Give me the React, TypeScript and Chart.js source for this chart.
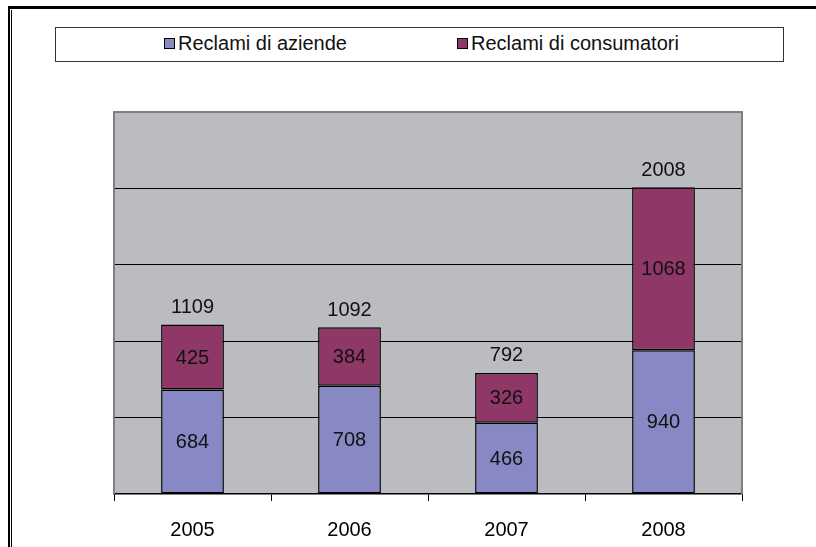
import React, { useEffect, useRef } from "react";
import { Chart, registerables } from "chart.js";

Chart.register(...registerables);

const categories = ["2005", "2006", "2007", "2008"];
const aziende = [684, 708, 466, 940];
const consumatori = [425, 384, 326, 1068];
const totals = [1109, 1092, 792, 2008];
const seriesNames = ["Reclami di aziende", "Reclami di consumatori"];
const seriesColors = ["#8888C4", "#8F3767"];
const yMax = 2500;
const yStep = 500;

const FONT = "Arial, 'Liberation Sans', sans-serif";

const plotBg = {
  id: "plotBg",
  beforeDraw(chart: any) {
    const { ctx, chartArea: a } = chart;
    ctx.save();
    ctx.fillStyle = "#BBBCC0";
    ctx.fillRect(a.left, a.top, a.right - a.left, a.bottom - a.top);
    ctx.restore();
  },
  afterDraw(chart: any) {
    const { ctx, chartArea: a } = chart;
    ctx.save();
    ctx.strokeStyle = "#7f7f7f";
    ctx.lineWidth = 2;
    ctx.beginPath();
    ctx.moveTo(a.left, a.bottom);
    ctx.lineTo(a.left, a.top);
    ctx.lineTo(a.right, a.top);
    ctx.lineTo(a.right, a.bottom);
    ctx.stroke();
    ctx.restore();
  },
};

const labelsPlugin = {
  id: "valueLabels",
  afterDatasetsDraw(chart: any) {
    const { ctx } = chart;
    ctx.save();
    ctx.font = `20px ${FONT}`;
    ctx.fillStyle = "#111";
    ctx.textAlign = "center";
    ctx.textBaseline = "middle";
    chart.data.datasets.forEach((ds: any, di: number) => {
      const meta = chart.getDatasetMeta(di);
      meta.data.forEach((bar: any, i: number) => {
        const y = (bar.y + bar.base) / 2;
        ctx.fillText(String(ds.data[i]), bar.x, y + 1);
      });
    });
    const top = chart.getDatasetMeta(chart.data.datasets.length - 1);
    top.data.forEach((bar: any, i: number) => {
      ctx.fillText(String(totals[i]), bar.x, bar.y - 17);
    });
    ctx.restore();
  },
};

export default function App() {
  const ref = useRef<HTMLCanvasElement>(null);
  useEffect(() => {
    if (!ref.current) return;
    const chart = new Chart(ref.current, {
      type: "bar",
      data: {
        labels: categories,
        datasets: [
          {
            label: seriesNames[0],
            data: aziende,
            backgroundColor: seriesColors[0],
            borderColor: "#000",
            borderWidth: 1.5,
            borderSkipped: false,
          },
          {
            label: seriesNames[1],
            data: consumatori,
            backgroundColor: seriesColors[1],
            borderColor: "#000",
            borderWidth: 1.5,
            borderSkipped: false,
          },
        ],
      },
      options: {
        animation: false,
        responsive: false,
        maintainAspectRatio: false,
        layout: { padding: { left: 114, right: 74, top: 112, bottom: 0 } },
        plugins: { legend: { display: false }, tooltip: { enabled: false } },
        datasets: { bar: { categoryPercentage: 1, barPercentage: 0.4 } },
        scales: {
          x: {
            stacked: true,
            afterFit: (s: any) => {
              s.height = 53;
            },
            grid: {
              offset: true,
              drawOnChartArea: false,
              drawTicks: true,
              tickLength: 7,
              color: "#000",
              lineWidth: 1,
            },
            border: { display: true, color: "#000", width: 1.5 },
            ticks: {
              color: "#000",
              font: { size: 20, family: FONT },
              padding: 17,
            },
          },
          y: {
            stacked: true,
            min: 0,
            max: yMax,
            afterFit: (s: any) => {
              s.width = 0;
            },
            ticks: { display: false, stepSize: yStep },
            border: { display: false },
            grid: {
              drawTicks: false,
              color: (c: any) =>
                c.tick && (c.tick.value === 0 || c.tick.value === yMax) ? "rgba(0,0,0,0)" : "#000",
              lineWidth: 1,
            },
          },
        },
      },
      plugins: [plotBg, labelsPlugin],
    });
    return () => chart.destroy();
  }, []);

  const legendItem = (i: number, left: number) => (
    <div
      style={{
        position: "absolute",
        left,
        top: 32,
        display: "flex",
        alignItems: "center",
        fontFamily: FONT,
        fontSize: 20,
        lineHeight: "23px",
        color: "#111",
        whiteSpace: "nowrap",
      }}
    >
      <span
        style={{
          display: "inline-block",
          width: 9,
          height: 9,
          background: seriesColors[i],
          border: "1px solid #000",
          marginRight: 3,
        }}
      />
      <span>{seriesNames[i]}</span>
    </div>
  );

  return (
    <div style={{ position: "fixed", left: 0, top: 0, width: 816, height: 547, background: "#fff", overflow: "hidden" }}>
      <canvas ref={ref} width={816} height={547} style={{ position: "absolute", left: 0, top: 0 }} />
      <div style={{ position: "absolute", left: 8, top: 6, width: 808, height: 3, background: "#000" }} />
      <div style={{ position: "absolute", left: 8, top: 6, width: 2, height: 541, background: "#000" }} />
      <div style={{ position: "absolute", left: 11, top: 10, width: 1, height: 537, background: "#000" }} />
      <div
        style={{
          position: "absolute",
          left: 55,
          top: 27,
          width: 727,
          height: 33,
          border: "1px solid #333",
          background: "#fff",
        }}
      />
      {legendItem(0, 164)}
      {legendItem(1, 457)}
    </div>
  );
}
